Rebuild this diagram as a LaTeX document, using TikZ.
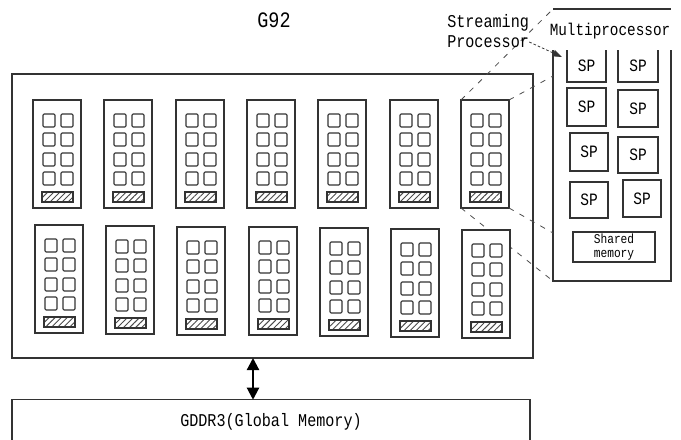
\documentclass[tikz,border=0pt]{standalone}
\usepackage{fontspec}
\usetikzlibrary{patterns.meta,arrows.meta}
\newfontfamily\lbl[FakeStretch=0.84]{Liberation Mono}
\begin{document}
\begin{tikzpicture}[x=0.75pt,y=-0.75pt,
  ln/.style={draw=black!80,line width=0.85pt},
  frame/.style={ln,rectangle,inner sep=0,outer sep=0},
  blk/.style={frame,fill=white,minimum width=36pt,minimum height=81pt,anchor=north west},
  sq/.style={draw=black!80,line width=0.8pt,rounded corners=0.8pt},
  hatch/.style={draw=black!80,line width=0.8pt,pattern={Lines[angle=45,distance=3.2pt,line width=0.7pt]},pattern color=black!70},
  spbox/.style={frame,fill=white,font=\lbl\fontsize{13}{13}\selectfont},
  dsh/.style={draw=black!70,line width=0.6pt,dash pattern=on 4pt off 5pt},
  txt/.style={font=\lbl\fontsize{13.5}{15}\selectfont,inner sep=0,align=left}]
\useasboundingbox (0,0) rectangle (681,439);

% main chip and memory
\node[frame,minimum width=390.75pt,minimum height=213pt] (gpu) at (272.5,216) {};
\node[inner sep=0,minimum width=388.5pt,minimum height=33pt,font=\lbl\fontsize{13.5}{15}\selectfont] (mem) at (271,422) {GDDR3(Global Memory)};
\coordinate (m1) at (12,445);
\coordinate (m2) at (530,445);
\draw[ln] (m1) |- (mem.north) -| (m2);
\draw[line width=1.6pt,{Triangle[length=9pt,width=9pt]}-{Triangle[length=9pt,width=9pt]}] (gpu.south -| 253,0) -- (mem.north -| 253,0);

\node[inner sep=0,font=\lbl\fontsize{16.5}{18}\selectfont] (g92) at (274,20) {G92};

% multiprocessor frame: top rule, then sides below the title
\node[inner sep=0,outer sep=0,minimum width=88.5pt,minimum height=204pt,anchor=north west] (mp) at (553,9) {};
\coordinate (mpl) at (553,50);
\coordinate (mpr) at (671,50);
\draw[ln,line width=1.1pt] (mp.north west) -- (mp.north east);
\draw[ln,line width=1.1pt] (mpl) |- (mp.south) -| (mpr);

% dashed zoom lines
\coordinate (z1) at (551,11);
\coordinate (z2) at (553,76);
\coordinate (z3) at (553,281);
\coordinate (z4) at (553,233);

% top row blocks
\foreach \x [count=\i] in {33,104,176,247,318,390,461} {
  \node[blk] (t\i) at (\x,100) {};
}
\draw[dsh] (t7.north west) -- (z1);
\draw[dsh] (t7.north east) -- (z2);
\draw[dsh] (t7.south west) -- (z3);
\draw[dsh] (t7.south east) -- (z4);
% bottom row blocks
\foreach \x/\y [count=\i] in {35/225,106/226,177/227,249/227,320/228,391/229,462/230} {
  \node[blk] (b\i) at (\x,\y) {};
}
% block contents
\foreach \n in {t1,t2,t3,t4,t5,t6,t7,b1,b2,b3,b4,b5,b6,b7} {
  \begin{scope}[shift={(\n.north west)}]
    \foreach \yy in {14,33,53,72} {
      \draw[sq] (10,\yy) rectangle ++(12,13);
      \draw[sq] (28,\yy) rectangle ++(12,13);
    }
    \draw[hatch] (9,92) rectangle (40,102);
  \end{scope}
}

% SPs (top row open at the top, as in the reference)
\node[inner sep=0,outer sep=0,minimum width=29.25pt,minimum height=24pt,font=\lbl\fontsize{13}{13}\selectfont] (sp1) at (586.5,66) {SP};
\node[inner sep=0,outer sep=0,minimum width=30pt,minimum height=24pt,font=\lbl\fontsize{13}{13}\selectfont] (sp2) at (638,66) {SP};
\draw[ln] (sp1.north west) |- (sp1.south) -| (sp1.north east);
\draw[ln] (sp2.north west) |- (sp2.south) -| (sp2.north east);
\node[spbox,minimum width=29.25pt,minimum height=28.5pt] (sp3) at (586.5,107) {SP};
\node[spbox,minimum width=30pt,minimum height=27.75pt] (sp4) at (638,108.5) {SP};
\node[spbox,minimum width=28.5pt,minimum height=28.5pt] (sp5) at (589,152) {SP};
\node[spbox,minimum width=30pt,minimum height=27pt] (sp6) at (638,155) {SP};
\node[spbox,minimum width=28.5pt,minimum height=27pt] (sp7) at (589,200) {SP};
\node[spbox,minimum width=28.5pt,minimum height=27.75pt] (sp8) at (642,198.5) {SP};
\node[frame,fill=white,minimum width=61.5pt,minimum height=22.5pt,align=center,font=\lbl\fontsize{10}{10.5}\selectfont] (shm) at (614,247) {Shared\\memory};

% Multiprocessor title
\node[inner sep=0,font=\lbl\fontsize{12.8}{14}\selectfont] (mpt) at (610,31) {Multiprocessor};

% Streaming Processor label
\node[txt,anchor=west] (spl) at (447,31) {Streaming\\Processor};
\coordinate (spa) at (562,57);
\draw[draw=black!80,line width=0.6pt,dash pattern=on 2pt off 1.5pt,-{Triangle[length=7pt,width=5pt]}] (spl.east |- 0,42) -- (spa);
\end{tikzpicture}
\end{document}
